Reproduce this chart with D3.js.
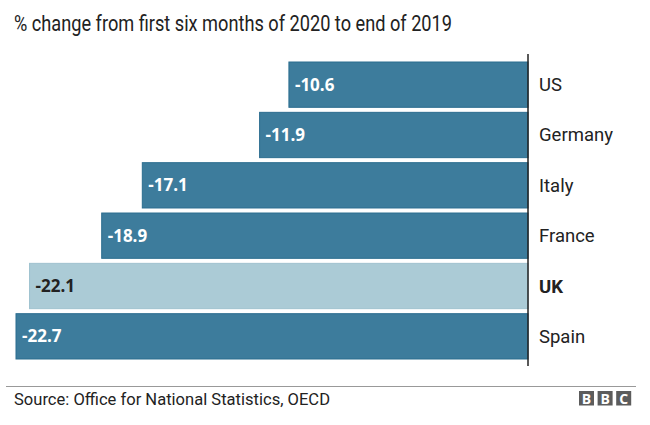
<!DOCTYPE html>
<html>
<head>
<meta charset="utf-8">
<script src="https://cdn.jsdelivr.net/npm/d3@7"></script>
<style>
  body { margin: 0; background: #fff; }
  text { font-family: "Open Sans", sans-serif; }
</style>
</head>
<body>
<div id="chart"></div>
<script>
// data
var countries = ['US', 'Germany', 'Italy', 'France', 'UK', 'Spain'];
var values = [-10.6, -11.9, -17.1, -18.9, -22.1, -22.7];
var highlight = ['UK'];

var W = 650, H = 425;
var barColor = '#3d7c9c', barEdge = '#2b6d8f', ukColor = '#abcbd6', ukEdge = '#9fc2cf';

var svg = d3.select('#chart').append('svg')
  .attr('width', W).attr('height', H);

var x = d3.scaleLinear().domain([-22.7, 0]).range([16, 528]);
var y = d3.scaleBand().domain(countries).range([61, 360]).paddingInner(0.1).paddingOuter(0.02);

// title (Reith Sans is narrow, so squeeze a bigger font to the same width)
svg.append('text')
  .attr('x', 14).attr('y', 31)
  .attr('font-size', 22).attr('fill', '#222')
  .attr('textLength', 438).attr('lengthAdjust', 'spacingAndGlyphs')
  .style('font-family', 'Roboto, sans-serif')
  .text('% change from first six months of 2020 to end of 2019');

var rows = svg.selectAll('g.row')
  .data(countries.map(function (c, i) { return { name: c, val: values[i] }; }))
  .enter().append('g').attr('class', 'row');

rows.append('rect')
  .attr('x', function (d) { return x(d.val); })
  .attr('y', function (d) { return y(d.name); })
  .attr('width', function (d) { return x(0) - x(d.val); })
  .attr('height', y.bandwidth())
  .attr('fill', function (d) { return highlight.indexOf(d.name) >= 0 ? ukColor : barColor; })
  .attr('stroke', function (d) { return highlight.indexOf(d.name) >= 0 ? ukEdge : barEdge; })
  .attr('stroke-width', 1);

rows.append('text')
  .attr('x', function (d) { return x(d.val) + 6; })
  .attr('y', function (d) { return y(d.name) + y.bandwidth() / 2 + 6; })
  .attr('font-size', 17).attr('font-weight', 'bold')
  .attr('fill', function (d) { return highlight.indexOf(d.name) >= 0 ? '#222' : '#fff'; })
  .text(function (d) { return d.val.toFixed(1); });

rows.append('text')
  .attr('x', 539)
  .attr('y', function (d) { return y(d.name) + y.bandwidth() / 2 + 6.5; })
  .attr('font-size', 18.5)
  .attr('font-weight', function (d) { return highlight.indexOf(d.name) >= 0 ? 'bold' : 'normal'; })
  .attr('fill', '#222')
  .style('font-family', 'Roboto, sans-serif')
  .text(function (d) { return d.name; });

// zero axis line
svg.append('line')
  .attr('x1', x(0)).attr('x2', x(0))
  .attr('y1', 54).attr('y2', 366)
  .attr('stroke', '#222').attr('stroke-width', 1.5);

// footer
svg.append('line')
  .attr('x1', 6).attr('x2', 636).attr('y1', 386.5).attr('y2', 386.5)
  .attr('stroke', '#999').attr('stroke-width', 1);

svg.append('text')
  .attr('x', 14).attr('y', 404.5)
  .attr('font-size', 16.5).attr('fill', '#222')
  .attr('textLength', 316).attr('lengthAdjust', 'spacingAndGlyphs')
  .style('font-family', 'Roboto, sans-serif')
  .text('Source: Office for National Statistics, OECD');

// BBC blocks
var logo = svg.append('g').attr('transform', 'translate(579,391)');
['B', 'B', 'C'].forEach(function (ch, i) {
  logo.append('rect').attr('x', i * 18.6).attr('y', 0).attr('width', 15).attr('height', 14.5).attr('fill', '#5c5c5c');
  logo.append('text').attr('x', i * 18.6 + 7.5).attr('y', 12.5)
    .attr('text-anchor', 'middle').attr('font-size', 14).attr('font-weight', 'bold')
    .attr('fill', '#fff').text(ch);
});
</script>
</body>
</html>
